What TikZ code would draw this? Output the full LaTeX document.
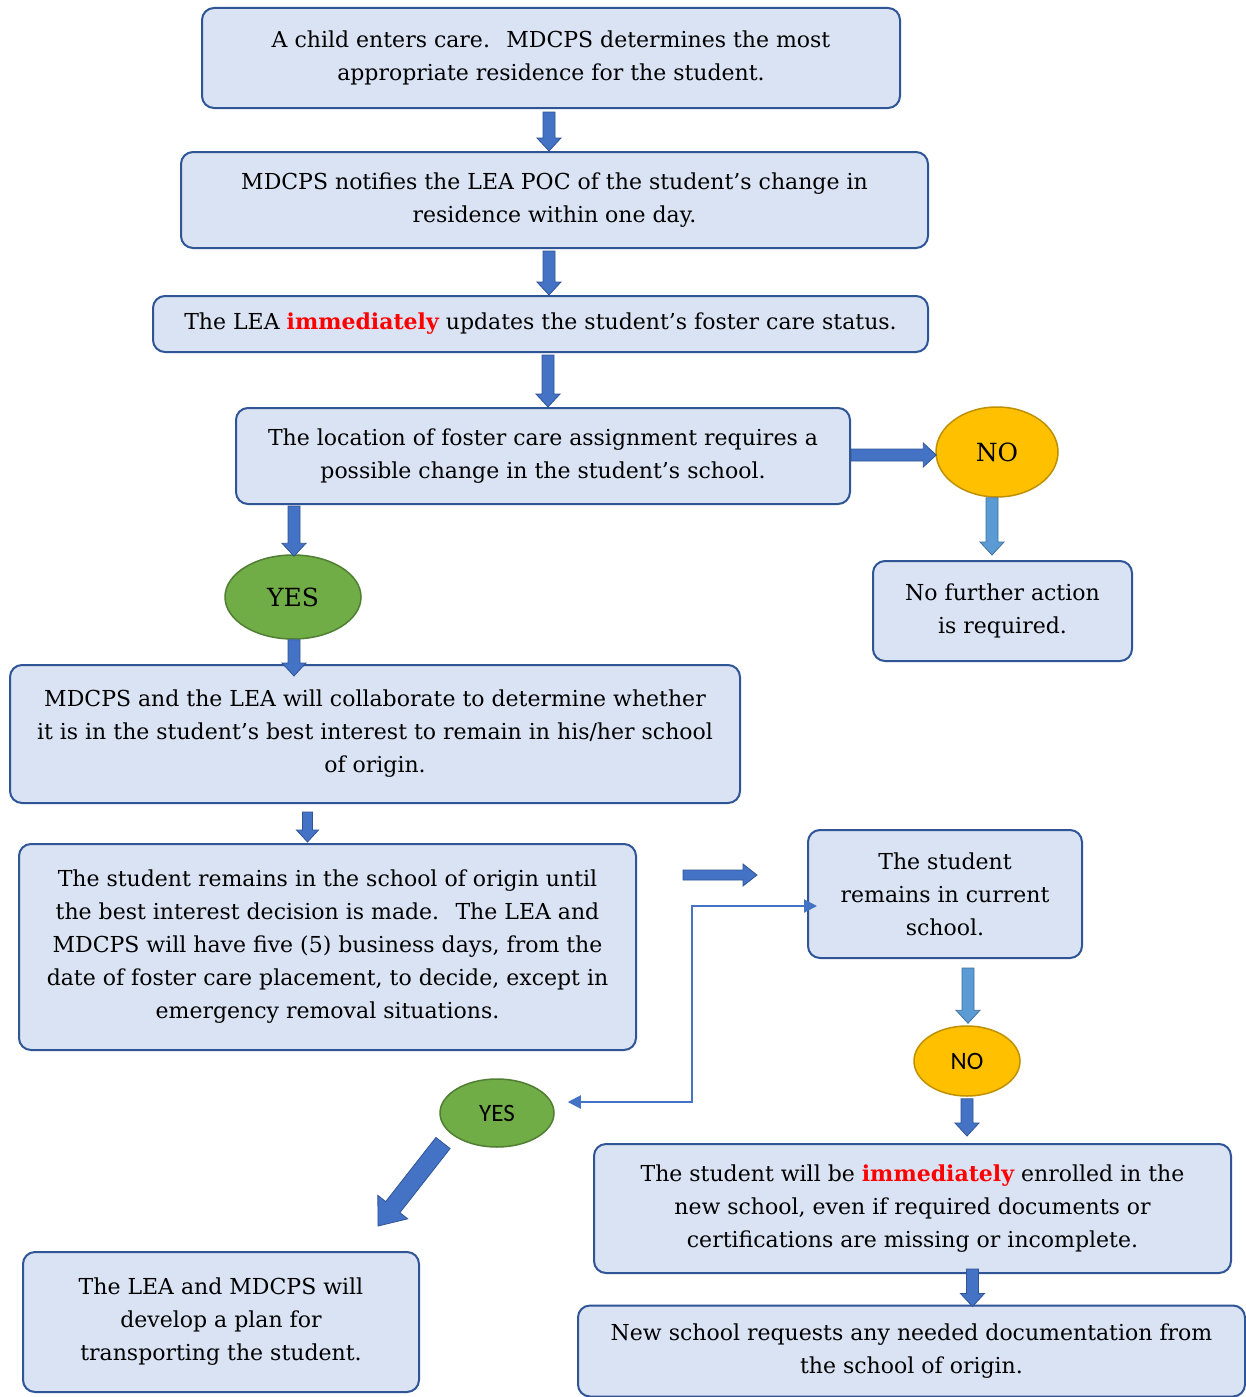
\documentclass[tikz,border=0pt]{standalone}
\usepackage{fontspec}
\setmainfont{DejaVu Serif}
\newfontfamily\calib{Carlito}
\usetikzlibrary{calc,shapes.geometric,arrows.meta}
\definecolor{boxfill}{HTML}{DAE3F3}
\definecolor{boxline}{HTML}{2F5597}
\definecolor{arrfill}{HTML}{4472C4}
\definecolor{arrline}{HTML}{2F5597}
\definecolor{lightfill}{HTML}{5B9BD5}
\definecolor{lightline}{HTML}{41719C}
\definecolor{nofill}{HTML}{FFC000}
\definecolor{noline}{HTML}{BF9000}
\definecolor{yesfill}{HTML}{70AD47}
\definecolor{yesline}{HTML}{507E32}
\definecolor{hot}{HTML}{FF0000}
\newcommand\hotword[1]{{\bfseries\color{hot}#1}}
\tikzset{
  fbox/.style={draw=boxline, fill=boxfill, line width=2pt, rounded corners=12pt,
    align=center, inner sep=0pt, font=\fontsize{22}{33}\selectfont},
  noell/.style={ellipse, draw=noline, fill=nofill, line width=1.5pt, inner sep=0pt,
    font=\fontsize{25}{30}\selectfont},
  yesell/.style={ellipse, draw=yesline, fill=yesfill, line width=1.5pt, inner sep=0pt,
    font=\fontsize{25}{30}\selectfont},
  sanslbl/.style={font=\calib\fontsize{25}{30}\selectfont},
  blk/.style={draw=arrline, fill=arrfill, line width=0.8pt, line join=miter},
  lightblk/.style={draw=lightline, fill=lightfill, line width=0.8pt, line join=miter},
  thinconn/.style={draw=arrfill, line width=2pt, {Triangle[length=13pt,width=13pt]}-{Triangle[length=13pt,width=13pt]}}
}
% #1 style, #2 from, #3 to, #4 half shaft, #5 half head, #6 head length
\newcommand\blkarrow[6][blk]{%
  \path (#2) coordinate (bas) (#3) coordinate (bat);
  \path ($(bat)!#6!(bas)$) coordinate (bah);
  \draw[#1] ($(bas)!#4!90:(bat)$) -- ($(bah)!#4!-90:(bas)$) -- ($(bah)!#5!-90:(bas)$)
    -- (bat) -- ($(bah)!#5!90:(bas)$) -- ($(bah)!#4!90:(bas)$) -- ($(bas)!#4!-90:(bat)$) -- cycle;
}
\begin{document}
\begin{tikzpicture}[x=1pt,y=-1pt]
\fill[white] (0,0) rectangle (1246,1397);
\useasboundingbox (0,0) rectangle (1246,1397);

\node[fbox, minimum width=698pt, minimum height=100pt] (A) at (551,58)
  {A child enters care.~ MDCPS determines the most\\appropriate residence for the student.};
\node[fbox, minimum width=747pt, minimum height=96pt] (B) at (554.5,200)
  {MDCPS notifies the LEA POC of the student’s change in\\residence within one day.};
\node[fbox, minimum width=775pt, minimum height=56pt] (C) at (540.5,324)
  {The LEA \hotword{immediately} updates the student’s foster care status.};
\node[fbox, minimum width=614pt, minimum height=96pt] (D) at (543,456)
  {The location of foster care assignment requires a\\possible change in the student’s school.};
\node[fbox, minimum width=259pt, minimum height=100pt] (E) at (1002.5,611)
  {No further action\\is required.};
\node[fbox, minimum width=730pt, minimum height=138pt] (F) at (375,734)
  {MDCPS and the LEA will collaborate to determine whether\\it is in the student’s best interest to remain in his/her school\\of origin.};
\node[fbox, minimum width=617pt, minimum height=206pt] (G) at (327.5,947)
  {The student remains in the school of origin until\\the best interest decision is made.~ The LEA and\\MDCPS will have five (5) business days, from the\\date of foster care placement, to decide, except in\\emergency removal situations.};
\node[fbox, minimum width=274pt, minimum height=128pt] (H) at (945,894)
  {The student\\remains in current\\school.};
\node[fbox, minimum width=637pt, minimum height=129pt] (I) at (912.5,1208.5)
  {The student will be \hotword{immediately} enrolled in the\\new school, even if required documents or\\certifications are missing or incomplete.};
\node[fbox, minimum width=396pt, minimum height=140pt] (J) at (221,1322)
  {The LEA and MDCPS will\\develop a plan for\\transporting the student.};
\node[fbox, minimum width=667pt, minimum height=91pt] (K) at (911.5,1351)
  {New school requests any needed documentation from\\the school of origin.};

\node[noell, minimum width=122pt, minimum height=90pt] (N1) at (997,452) {NO};
\node[yesell, minimum width=136pt, minimum height=84pt] (Y1) at (293,597) {YES};
\node[noell, sanslbl, minimum width=106pt, minimum height=70pt] (N2) at (967,1061) {NO};
\node[yesell, sanslbl, minimum width=114pt, minimum height=68pt] (Y2) at (497,1113) {YES};

\blkarrow{$(A.south)+(-2,3)$}{$(A.south|-B.north)+(-2,0)$}{6pt}{12pt}{13pt}
\blkarrow{$(B.south)+(-5.5,2)$}{$(B.south|-C.north)+(-5.5,0)$}{6pt}{12pt}{13pt}
\blkarrow{$(C.south)+(7.5,2)$}{$(C.south|-D.north)+(7.5,0)$}{6pt}{12pt}{13pt}
\blkarrow{$(D.east)+(0,-1)$}{$(D.east-|N1.west)+(1,-1)$}{6pt}{12pt}{13pt}
\blkarrow[lightblk]{$(N1.south)+(-5,0)$}{$(N1.south|-E.north)+(-5,-5)$}{6pt}{12pt}{13pt}
\blkarrow{$(D.south-|Y1.north)+(1,1)$}{$(Y1.north)+(1,2)$}{6pt}{12pt}{13pt}
\blkarrow{$(Y1.south)+(1,0)$}{$(Y1.south|-F.north)+(1,12)$}{6pt}{12pt}{13pt}
\blkarrow{$(F.south-|G.north)+(-20,8)$}{$(G.north)+(-20,-1)$}{5pt}{11pt}{12pt}
\coordinate (fa1) at (683,875);
\coordinate (fa2) at (757,875);
\blkarrow{fa1}{fa2}{5pt}{11pt}{14pt}
\blkarrow[lightblk]{$(H.south-|N2.north)+(1,9)$}{$(N2.north)+(1,-2)$}{6pt}{12pt}{13pt}
\blkarrow{$(N2.south)+(0,2)$}{$(N2.south|-I.north)+(0,-7)$}{6pt}{12pt}{13pt}
\blkarrow{$(I.south)+(60,-5)$}{$(I.south|-K.north)+(60,2)$}{6pt}{12pt}{13pt}
\blkarrow{$(Y2.center)+(-54,30)$}{$(J.north east)+(-42,-25)$}{9pt}{19pt}{24pt}

\coordinate (elb) at (692,1000);
\draw[thinconn] ($(Y2.east)+(13,-11)$) -| (elb) |- ($(H.west)+(10,12)$);
\end{tikzpicture}
\end{document}
